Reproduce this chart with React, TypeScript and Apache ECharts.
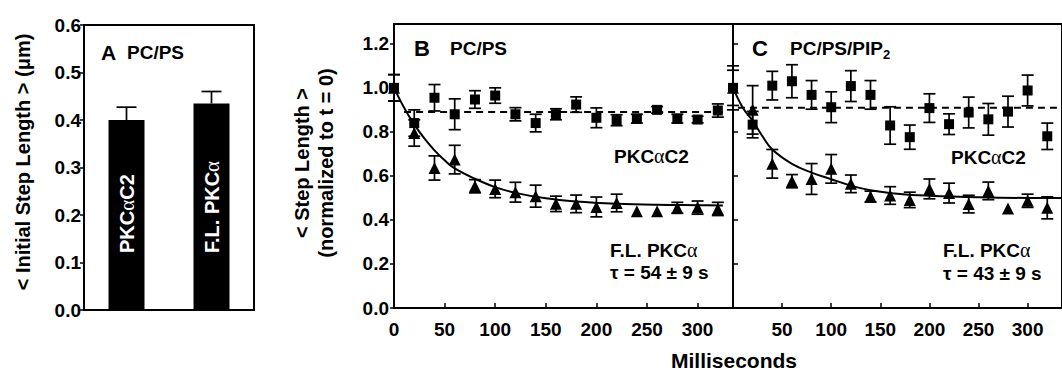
import React, { useEffect, useRef } from 'react';
import * as echarts from 'echarts';

// ---------- Panel A ----------
const barCategories = ['PKCαC2', 'F.L. PKCα'];
const barValues = [0.4, 0.435];
const barErrors = [0.027, 0.025];

// ---------- Panels B and C (time in ms) ----------
const times = [0, 20, 40, 60, 80, 100, 120, 140, 160, 180, 200, 220, 240, 260, 280, 300, 320];

// B: PC/PS
const c2B = [1.0, 0.84, 0.955, 0.88, 0.947, 0.965, 0.88, 0.84, 0.88, 0.924, 0.864, 0.853, 0.86, 0.9, 0.86, 0.856, 0.897];
const c2BErr = [0.06, 0.06, 0.06, 0.07, 0.04, 0.035, 0.03, 0.04, 0.025, 0.035, 0.045, 0.025, 0.02, 0.015, 0.02, 0.015, 0.03];
const flB = [1.0, 0.795, 0.636, 0.674, 0.553, 0.541, 0.526, 0.508, 0.473, 0.473, 0.459, 0.477, 0.44, 0.44, 0.455, 0.456, 0.45];
const flBErr = [0.06, 0.06, 0.055, 0.065, 0.03, 0.04, 0.045, 0.05, 0.035, 0.04, 0.045, 0.04, 0, 0, 0.025, 0.03, 0.03];

// C: PC/PS/PIP2
const c2C = [1.0, 0.833, 1.01, 1.03, 0.968, 0.912, 1.008, 0.968, 0.829, 0.776, 0.908, 0.835, 0.888, 0.857, 0.892, 0.988, 0.78];
const c2CErr = [0.1, 0.06, 0.065, 0.075, 0.065, 0.07, 0.07, 0.065, 0.085, 0.055, 0.065, 0.047, 0.07, 0.072, 0.07, 0.07, 0.06];
const flC = [1.0, 0.9, 0.655, 0.576, 0.586, 0.632, 0.564, 0.506, 0.511, 0.491, 0.541, 0.522, 0.472, 0.532, 0.452, 0.487, 0.455];
const flCErr = [0.08, 0.11, 0.065, 0.03, 0.07, 0.065, 0.04, 0.025, 0.04, 0.035, 0.045, 0.045, 0.04, 0.04, 0, 0.03, 0.05];

// fitted curves
const fitBTimes = [0, 10, 20, 30, 40, 50, 60, 80, 100, 120, 150, 180, 220, 260, 300, 325];
const fitBValues = [1.0, 0.91, 0.834, 0.77, 0.716, 0.671, 0.634, 0.587, 0.549, 0.523, 0.498, 0.484, 0.474, 0.469, 0.467, 0.466];
const fitCTimes = [0, 10, 20, 30, 40, 60, 80, 100, 120, 140, 170, 200, 250, 300, 335];
const fitCValues = [1.0, 0.91, 0.85, 0.78, 0.72, 0.655, 0.615, 0.585, 0.556, 0.535, 0.518, 0.51, 0.503, 0.5, 0.5];

// dashed plateau lines for PKCαC2
const dashBTimes = [10, 325];
const dashBValues = [0.89, 0.89];
const dashCTimes = [5, 340];
const dashCValues = [0.91, 0.91];

const FONT = 'Liberation Sans';
const BLACK = '#000';

const errRender = (capW: number, upOnly: boolean) => (params: any, api: any) => {
  const x = api.value(0);
  const v = api.value(1);
  const e = api.value(2);
  if (!e) return null;
  const top = api.coord([x, v + e]);
  const mid = api.coord([x, v]);
  const bot = api.coord([x, v - e]);
  const st = { stroke: BLACK, lineWidth: 1.7 };
  const children: any[] = [
    { type: 'line', shape: { x1: top[0], y1: top[1], x2: upOnly ? mid[0] : bot[0], y2: upOnly ? mid[1] : bot[1] }, style: st },
    { type: 'line', shape: { x1: top[0] - capW / 2, y1: top[1], x2: top[0] + capW / 2, y2: top[1] }, style: st },
  ];
  if (!upOnly) {
    children.push({ type: 'line', shape: { x1: bot[0] - capW / 2, y1: bot[1], x2: bot[0] + capW / 2, y2: bot[1] }, style: st });
  }
  return { type: 'group', children };
};

const zip = (xs: number[], ys: number[]) => xs.map((x, i) => [x, ys[i]]);
const zip3 = (xs: number[], ys: number[], es: number[]) => xs.map((x, i) => [x, ys[i], es[i]]);

const richAlpha = (color: string, size: number) => ({
  b: { fontFamily: FONT, fontWeight: 'bold', fontSize: size, color },
  a: { fontFamily: 'Liberation Serif', fontWeight: 'normal', fontSize: size + 1, color },
});
const alphaText = (s: string) =>
  s.split('α').map((p) => (p ? `{b|${p}}` : '')).join('{a|α}');

const txt = (x: number, y: number, text: string, size: number, extra: any = {}) => ({
  type: 'text',
  x,
  y,
  ...extra,
  style: {
    text,
    fill: BLACK,
    font: `bold ${size}px "${FONT}"`,
    align: extra.align || 'left',
    verticalAlign: 'middle',
    textAlign: extra.align || 'left',
    textVerticalAlign: 'middle',
    ...(extra.rich ? { rich: extra.rich } : {}),
  },
});

export default function App() {
  const ref = useRef<HTMLDivElement>(null);
  useEffect(() => {
    if (!ref.current) return;
    const chart = echarts.init(ref.current, undefined, { renderer: 'svg' });

    const axisLine = { show: true, lineStyle: { color: BLACK, width: 2 } };
    const tickLabel = { color: BLACK, fontFamily: FONT, fontWeight: 'bold', fontSize: 19 };

    const timeAxis = (gridIndex: number, showMin: boolean) => ({
      type: 'value',
      gridIndex,
      min: 0,
      max: 335,
      interval: 50,
      axisLine,
      splitLine: { show: false },
      axisTick: { show: true, inside: true, length: 5, lineStyle: { color: BLACK, width: 1.5 } },
      axisLabel: { ...tickLabel, margin: 12, showMinLabel: showMin, showMaxLabel: false },
    });

    const markerStyle = { color: BLACK, opacity: 1 };

    const option: any = {
      animation: false,
      textStyle: { fontFamily: FONT },
      grid: [
        { left: 84, top: 25, width: 170, height: 285, show: true, borderColor: BLACK, borderWidth: 2, containLabel: false },
        { left: 394, top: 24, width: 339, height: 284, show: true, borderColor: BLACK, borderWidth: 2, containLabel: false },
        { left: 733, top: 24, width: 339, height: 284, show: true, borderColor: BLACK, borderWidth: 2, containLabel: false },
      ],
      xAxis: [
        {
          type: 'category',
          gridIndex: 0,
          data: barCategories,
          axisLine,
          axisTick: { show: false },
          axisLabel: { show: false },
        },
        timeAxis(1, true),
        timeAxis(2, false),
      ],
      yAxis: [
        {
          type: 'value',
          gridIndex: 0,
          min: 0,
          max: 0.6,
          interval: 0.1,
          axisLine,
          splitLine: { show: false },
          axisTick: { show: true, length: 4, lineStyle: { color: BLACK, width: 1.5 } },
          axisLabel: { ...tickLabel, margin: 3, formatter: (v: number) => v.toFixed(1) },
        },
        {
          type: 'value',
          gridIndex: 1,
          min: 0,
          max: 1.29,
          interval: 0.2,
          axisLine,
          splitLine: { show: false },
          axisTick: { show: true, length: 4, lineStyle: { color: BLACK, width: 1.5 } },
          axisLabel: { ...tickLabel, margin: 5, showMaxLabel: false, formatter: (v: number) => v.toFixed(1) },
        },
        {
          type: 'value',
          gridIndex: 2,
          min: 0,
          max: 1.29,
          interval: 0.2,
          axisLine,
          splitLine: { show: false },
          axisTick: { show: true, inside: true, length: 5, lineStyle: { color: BLACK, width: 1.5 } },
          axisLabel: { show: false },
        },
      ],
      series: [
        // Panel A
        {
          type: 'bar',
          xAxisIndex: 0,
          yAxisIndex: 0,
          data: barValues,
          barWidth: 36,
          itemStyle: { color: BLACK },
          label: {
            show: true,
            position: 'insideBottom',
            distance: 57,
            rotate: 90,
            align: 'left',
            verticalAlign: 'middle',
            formatter: (p: any) => alphaText(p.name),
            rich: richAlpha('#fff', 20),
          },
        },
        {
          type: 'custom',
          xAxisIndex: 0,
          yAxisIndex: 0,
          renderItem: errRender(20, true),
          data: barValues.map((v, i) => [i, v, barErrors[i]]),
          encode: { x: 0, y: 1 },
          z: 3,
        },
        // Panel B
        {
          type: 'line', xAxisIndex: 1, yAxisIndex: 1, data: zip(dashBTimes, dashBValues), showSymbol: false,
          lineStyle: { color: BLACK, width: 2, type: [7, 5] }, z: 1,
        },
        {
          type: 'line', xAxisIndex: 1, yAxisIndex: 1, data: zip(fitBTimes, fitBValues), showSymbol: false, smooth: 0.4,
          lineStyle: { color: BLACK, width: 2 }, z: 1,
        },
        {
          type: 'custom', xAxisIndex: 1, yAxisIndex: 1, renderItem: errRender(12, false),
          data: zip3(times, flB, flBErr), encode: { x: 0, y: 1 }, z: 2,
        },
        {
          type: 'custom', xAxisIndex: 1, yAxisIndex: 1, renderItem: errRender(12, false),
          data: zip3(times, c2B, c2BErr), encode: { x: 0, y: 1 }, z: 2,
        },
        {
          type: 'scatter', xAxisIndex: 1, yAxisIndex: 1, data: zip(times, flB), symbol: 'triangle', symbolSize: 12,
          itemStyle: markerStyle, z: 3,
        },
        {
          type: 'scatter', xAxisIndex: 1, yAxisIndex: 1, data: zip(times, c2B), symbol: 'rect', symbolSize: 10,
          itemStyle: markerStyle, z: 3,
        },
        // Panel C
        {
          type: 'line', xAxisIndex: 2, yAxisIndex: 2, data: zip(dashCTimes, dashCValues), showSymbol: false,
          lineStyle: { color: BLACK, width: 2, type: [7, 5] }, z: 1,
        },
        {
          type: 'line', xAxisIndex: 2, yAxisIndex: 2, data: zip(fitCTimes, fitCValues), showSymbol: false, smooth: 0.4,
          lineStyle: { color: BLACK, width: 2 }, z: 1,
        },
        {
          type: 'custom', xAxisIndex: 2, yAxisIndex: 2, renderItem: errRender(12, false),
          data: zip3(times, flC, flCErr), encode: { x: 0, y: 1 }, z: 2,
        },
        {
          type: 'custom', xAxisIndex: 2, yAxisIndex: 2, renderItem: errRender(12, false),
          data: zip3(times, c2C, c2CErr), encode: { x: 0, y: 1 }, z: 2,
        },
        {
          type: 'scatter', xAxisIndex: 2, yAxisIndex: 2, data: zip(times, flC), symbol: 'triangle', symbolSize: 12,
          itemStyle: markerStyle, z: 3,
        },
        {
          type: 'scatter', xAxisIndex: 2, yAxisIndex: 2, data: zip(times, c2C), symbol: 'rect', symbolSize: 10,
          itemStyle: markerStyle, z: 3,
        },
      ],
      graphic: [
        // axis titles
        txt(23, 162, '< Initial Step Length > (μm)', 20, { rotation: Math.PI / 2, align: 'center' }),
        txt(302, 163, '< Step Length >', 20, { rotation: Math.PI / 2, align: 'center' }),
        txt(326, 163, '(normalized to t = 0)', 20, { rotation: Math.PI / 2, align: 'center' }),
        txt(734, 360, 'Milliseconds', 21, { align: 'center' }),
        // panel A
        txt(101, 52, 'A', 21),
        txt(127, 52, 'PC/PS', 19),
        // panel B
        txt(414, 48, 'B', 22),
        txt(450, 48, 'PC/PS', 19),
        txt(614, 156, alphaText('PKCαC2'), 19, { rich: richAlpha(BLACK, 19) }),
        txt(610, 250, alphaText('F.L. PKCα'), 19, { rich: richAlpha(BLACK, 19) }),
        txt(610, 272, 'τ = 54 ± 9 s', 19),
        // panel C
        txt(752, 48, 'C', 22),
        txt(790, 48, 'PC/PS/PIP', 19),
        txt(883, 54, '2', 13),
        txt(951, 157, alphaText('PKCαC2'), 19, { rich: richAlpha(BLACK, 19) }),
        txt(943, 250, alphaText('F.L. PKCα'), 19, { rich: richAlpha(BLACK, 19) }),
        txt(943, 273, 'τ = 43 ± 9 s', 19),
      ],
    };

    chart.setOption(option);
    return () => chart.dispose();
  }, []);

  return (
    <div
      ref={ref}
      style={{ position: 'absolute', left: 0, top: 0, width: 1062, height: 372, background: '#fff' }}
    />
  );
}
